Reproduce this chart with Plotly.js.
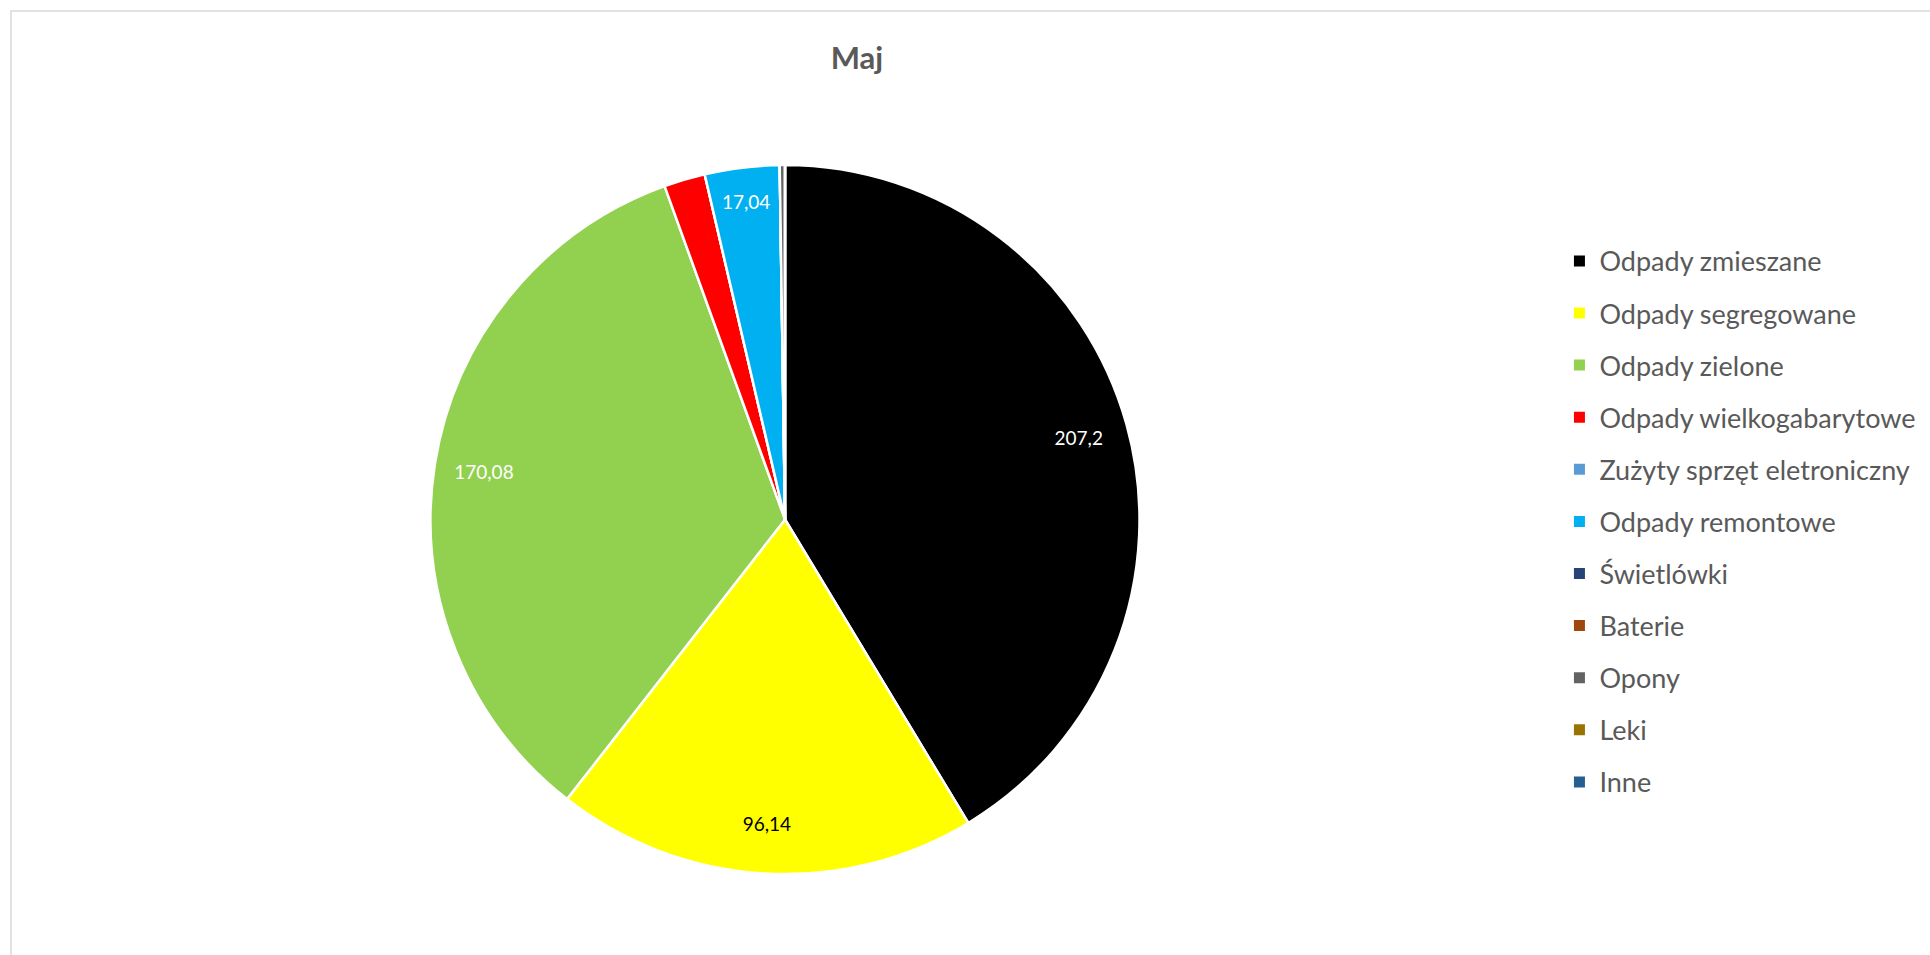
<!DOCTYPE html>
<html>
<head>
<meta charset="utf-8">
<script src="https://cdn.plot.ly/plotly-3.0.1.min.js"></script>
<style>
html,body{margin:0;padding:0;background:#fff;}
#chart{width:1930px;height:955px;}
</style>
</head>
<body>
<div id="chart"></div>
<script>
const categories = [
  "Odpady zmieszane",
  "Odpady segregowane",
  "Odpady zielone",
  "Odpady wielkogabarytowe",
  "Zużyty sprzęt eletroniczny",
  "Odpady remontowe",
  "Świetlówki",
  "Baterie",
  "Opony",
  "Leki",
  "Inne"
];
const values = [207.2, 96.14, 170.08, 9.4, 0, 17.04, 0, 0, 1.2, 0, 0];
const sliceColors = ["#000000", "#FFFF00", "#92D050", "#FF0000", "#5B9BD5", "#00B0F0",
                     "#264478", "#9E480E", "#636363", "#997300", "#255E91"];
const showLabel = [true, true, true, false, false, true, false, false, false, false, false];
const labelColors = ["#FFFFFF", "#000000", "#FFFFFF", "#FFFFFF", "#FFFFFF", "#FFFFFF",
                     "#FFFFFF", "#FFFFFF", "#FFFFFF", "#FFFFFF", "#FFFFFF"];
const chartTitle = "Maj";

const FONT = "Lato, 'Open Sans', sans-serif";
const pieDomain = { x: [0.2228, 0.5907], y: [0.0848, 0.8272] };

// the pie itself
const pieTrace = {
  type: "pie",
  labels: categories,
  values: values,
  sort: false,
  direction: "clockwise",
  rotation: 0,
  marker: { colors: sliceColors, line: { color: "#FFFFFF", width: 2.5 } },
  textinfo: "none",
  hoverinfo: "label+value",
  domain: pieDomain,
  showlegend: false
};

// transparent ring over the same data, used only to place the data labels near the rim
const labelTrace = {
  type: "pie",
  labels: categories,
  values: values,
  sort: false,
  direction: "clockwise",
  rotation: 0,
  hole: 0.72,
  marker: { colors: categories.map(() => "rgba(0,0,0,0)"), line: { width: 0 } },
  texttemplate: showLabel.map(s => s ? "%{value}" : ""),
  textposition: "inside",
  insidetextorientation: "horizontal",
  textfont: { family: FONT, size: 19, color: labelColors },
  hoverinfo: "skip",
  domain: pieDomain,
  showlegend: false
};

// legend entries built from the same categories / colours
const legendTraces = categories.map((name, i) => ({
  type: "scatter",
  mode: "markers",
  x: [null], y: [null],
  name: name,
  legendgroup: "g" + i,
  showlegend: true,
  marker: { symbol: "square", size: 11, color: sliceColors[i] },
  hoverinfo: "skip"
}));

const layout = {
  width: 1930,
  height: 955,
  margin: { l: 0, r: 0, t: 0, b: 0 },
  paper_bgcolor: "#FFFFFF",
  plot_bgcolor: "rgba(0,0,0,0)",
  separators: ", ",
  uniformtext: { mode: "show", minsize: 19 },
  xaxis: { visible: false, domain: [0.95, 1] },
  yaxis: { visible: false, domain: [0.95, 1] },
  title: {
    text: "<b>" + chartTitle + "</b>",
    x: 0.444, xanchor: "center",
    y: 0.939, yanchor: "middle",
    font: { family: FONT, size: 31, color: "#595959" }
  },
  legend: {
    x: 0.808, xanchor: "left",
    y: 0.752, yanchor: "top",
    font: { family: FONT, size: 27, color: "#595959" },
    tracegroupgap: 14,
    itemwidth: 30,
    traceorder: "grouped"
  },
  shapes: [{
    type: "rect", xref: "paper", yref: "paper",
    x0: 11/1930, x1: 1.01, y0: -0.01, y1: 1 - 11/955,
    line: { color: "#D9D9D9", width: 1.5 }, fillcolor: "rgba(0,0,0,0)"
  }]
};

Plotly.newPlot("chart", [pieTrace, labelTrace].concat(legendTraces), layout, { displayModeBar: false, staticPlot: true });
</script>
</body>
</html>
